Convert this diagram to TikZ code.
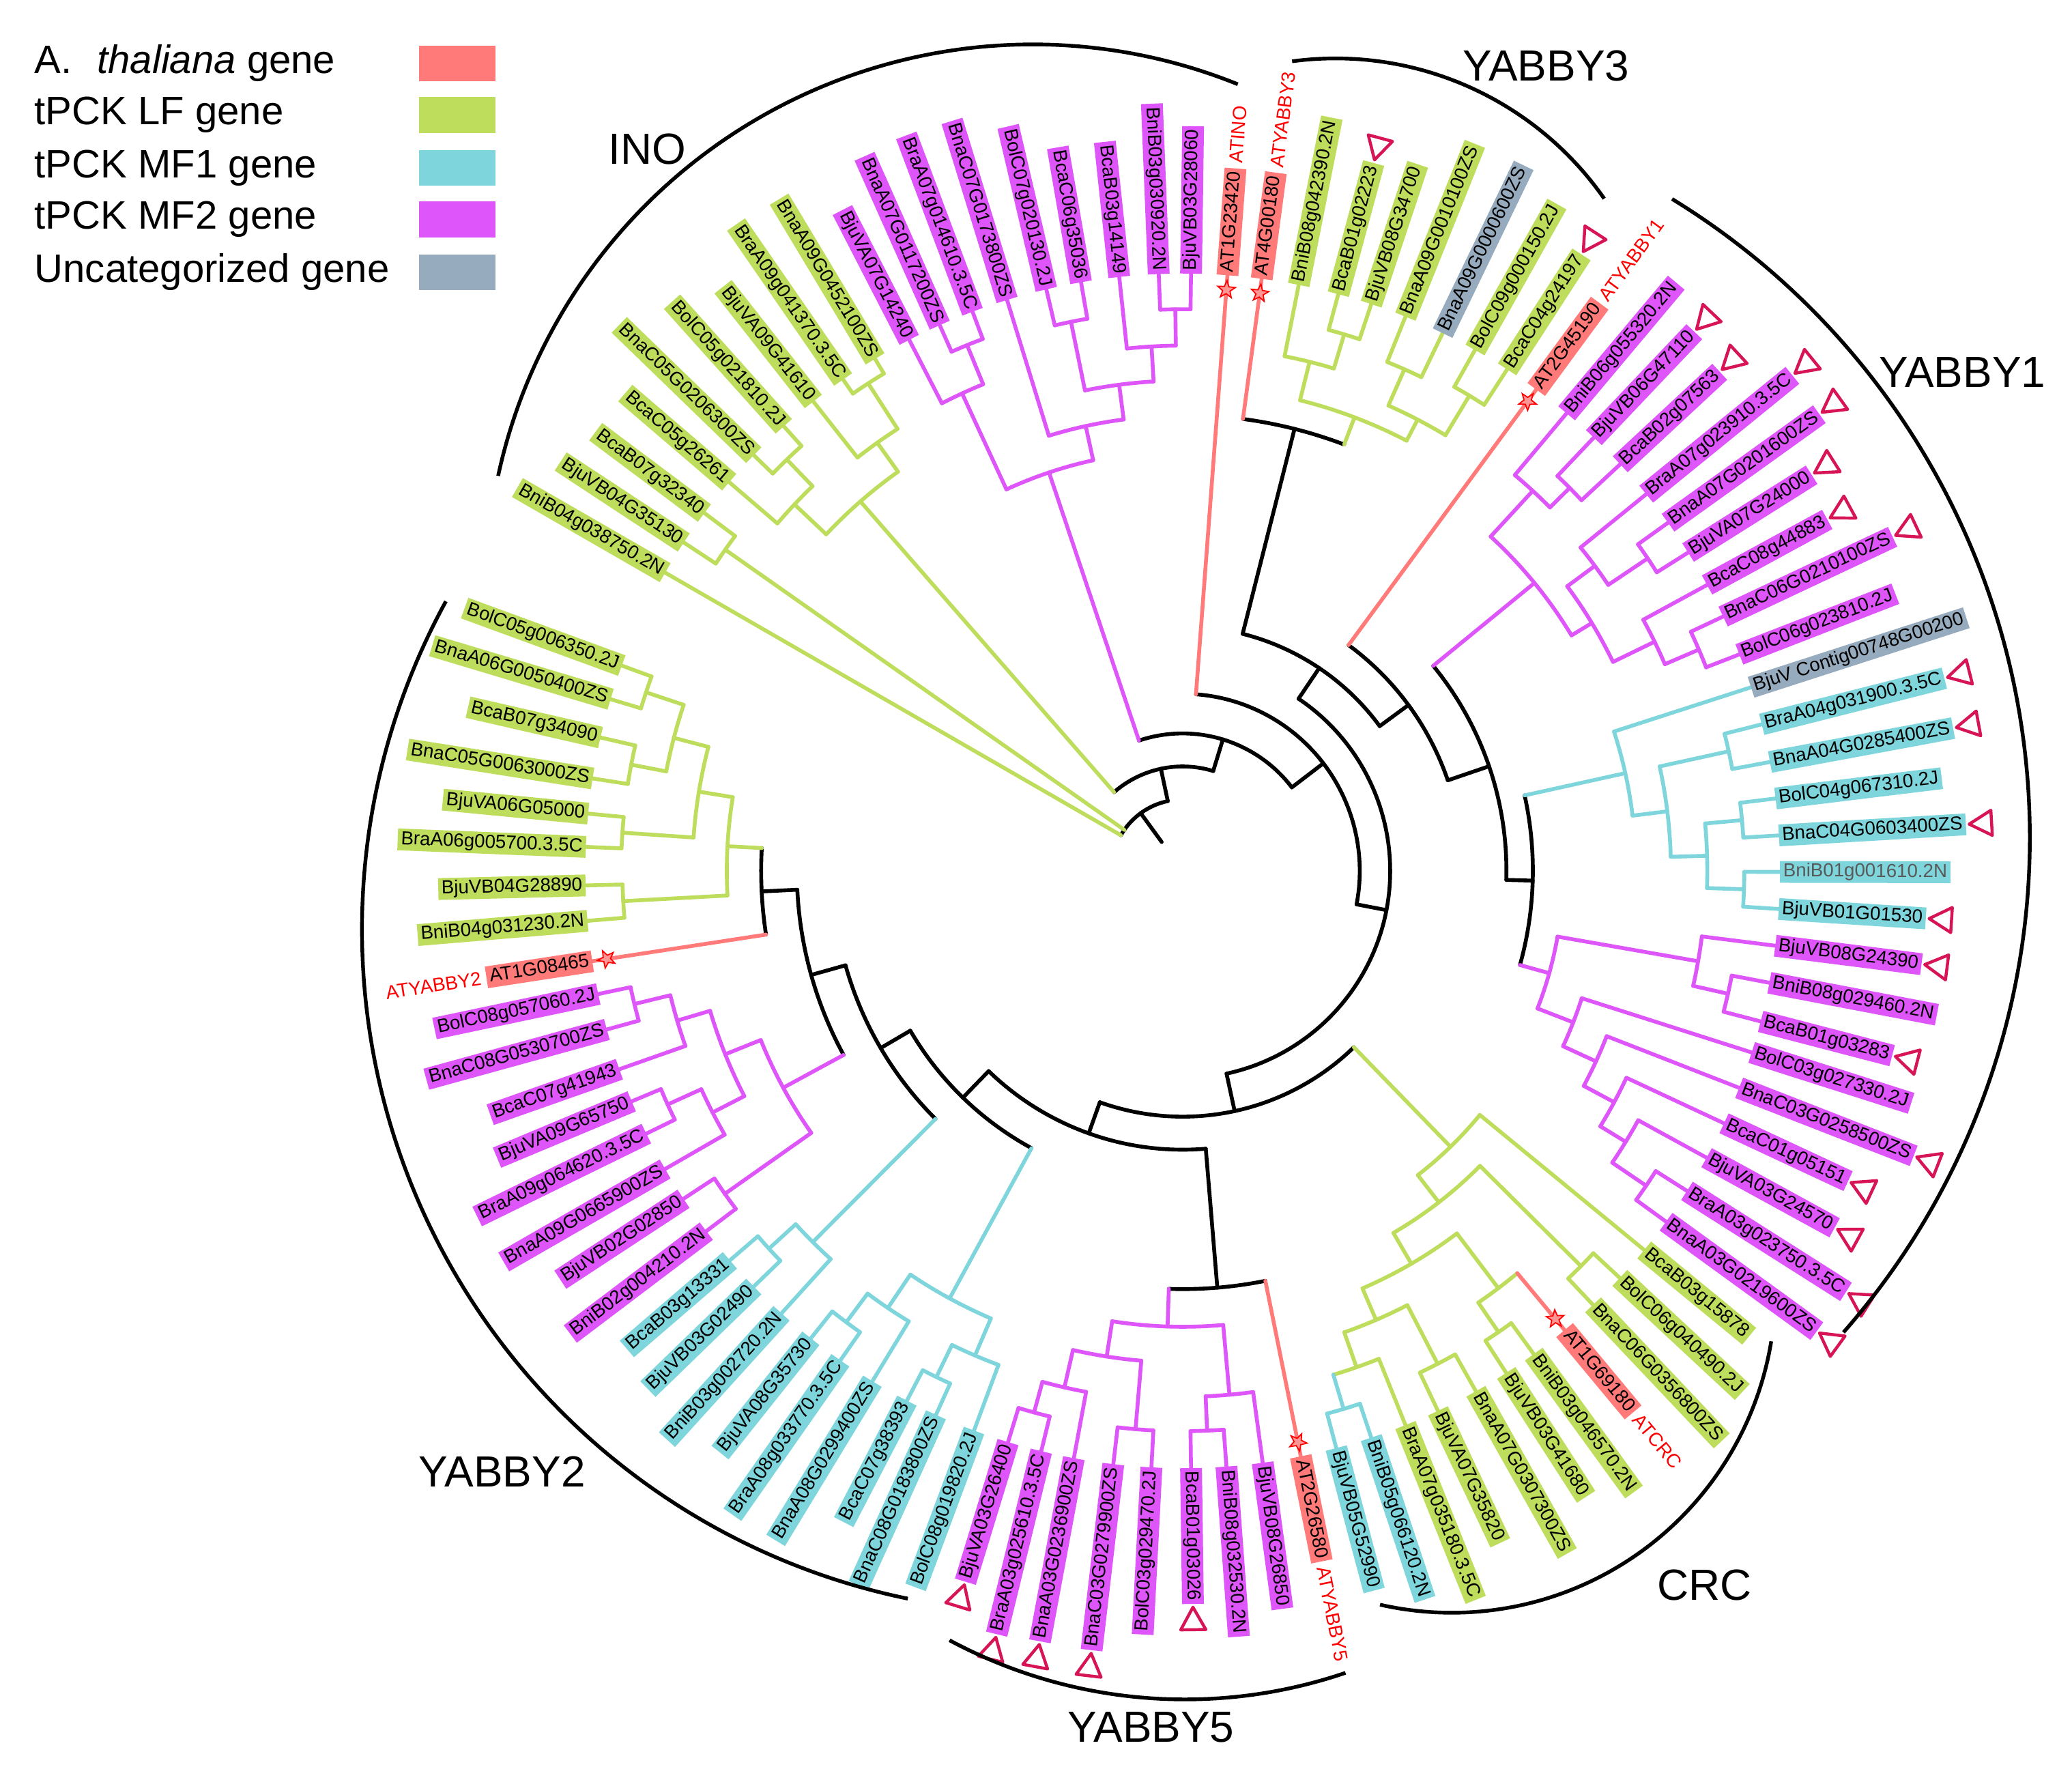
\documentclass[tikz,border=0pt]{standalone}
\usepackage{fontspec}
\usetikzlibrary{calc,shapes.geometric}
\newfontfamily\lf{Liberation Sans}
\definecolor{cAT}{RGB}{255,122,120}
\definecolor{cLF}{RGB}{190,221,92}
\definecolor{cMFa}{RGB}{126,214,220}
\definecolor{cMFb}{RGB}{222,86,250}
\definecolor{cUN}{RGB}{150,172,190}
\definecolor{cTri}{RGB}{215,20,85}
\definecolor{cStar}{RGB}{255,150,150}
\tikzset{
 br/.style={line width=2.9pt,line cap=round,line join=round},
 bk/.style={br,draw=black},
 gr/.style={br,draw=cLF},
 cy/.style={br,draw=cMFa},
 mg/.style={br,draw=cMFb},
 sa/.style={br,draw=cAT},
 lbl/.style={font=\lf\fontsize{14.3}{16}\selectfont,inner xsep=2.5pt,inner ysep=1.5pt,text height=10.5pt,text depth=3pt,outer sep=0pt},
 atl/.style={font=\lf\fontsize{14.5}{16}\selectfont,text=red,inner sep=0pt},
 tri/.style={draw=cTri,line width=2.3pt,fill=white,line join=round},
 astar/.style={star,star points=5,star point ratio=2.4,minimum size=14pt,inner sep=0pt,draw=red,fill=cStar,line width=0.9pt},
 clade/.style={line width=2.8pt,draw=black},
 cl/.style={font=\lf\fontsize{33}{36}\selectfont,inner sep=0pt},
 leg/.style={font=\lf\fontsize{30}{34}\selectfont,anchor=west,inner sep=0pt}
}
\newcommand\TBarc[4]{\draw[#1] (#2:#4pt) arc[start angle=#2,end angle=#3,radius=#4pt];}
\newcommand\TStem[4]{\draw[#1] (#2:#3pt) -- (#2:#4pt);}
\newcommand\Nd[8]{\TBarc{#1}{#3}{#6}{#2}\TStem{#4}{#3}{#2}{#5}\TStem{#7}{#6}{#2}{#8}}
\newcommand\LabR[5][]{\node[lbl,fill=#4,anchor=west,rotate=#3,#1] (#2) at (#3:452pt) {#5};}
\newcommand\LabL[5][]{\node[lbl,fill=#4,anchor=east,rotate={#3+180},#1] (#2) at (#3:452pt) {#5};}
\newcommand\TriR[2]{\begin{scope}[shift={($(#1.east)!-2.5pt!(#1.west)$)},rotate=#2]\draw[tri] (0pt,0pt)--(17pt,9.5pt)--(17pt,-9.5pt)--cycle;\end{scope}}
\newcommand\TriL[2]{\begin{scope}[shift={($(#1.west)!-2.5pt!(#1.east)$)},rotate=#2]\draw[tri] (0pt,0pt)--(17pt,9.5pt)--(17pt,-9.5pt)--cycle;\end{scope}}
\begin{document}
\begin{tikzpicture}[x=1pt,y=1pt]
\fill[white] (0,-1337) rectangle (1568,0);
\useasboundingbox (0,-1337) rectangle (1568,0);

\begin{scope}[shift={(895,-659)}]
% ---------- branches ----------
\TStem{bk}{126.05}{27}{54}
\Nd{bk}{54}{150.05}{gr}{452}{102.05}{bk}{79}
\TStem{gr}{144.93}{54}{423}
\Nd{gr}{423}{146.65}{gr}{452}{143.2}{gr}{452}
\Nd{bk}{79}{131.1}{gr}{371}{73.0}{bk}{104}
\Nd{gr}{371}{136.65}{gr}{404}{125.5}{gr}{398}
\Nd{gr}{404}{139.4}{gr}{452}{133.9}{gr}{432}
\Nd{gr}{432}{135.9}{gr}{452}{131.9}{gr}{452}
\Nd{gr}{398}{128.2}{gr}{452}{122.83}{gr}{439}
\Nd{gr}{439}{124.65}{gr}{452}{121.0}{gr}{452}
\Nd{bk}{104}{108.55}{mg}{318}{37.4}{bk}{134}
\Nd{mg}{318}{114.8}{mg}{398}{102.3}{mg}{344.5}
\Nd{mg}{398}{117.25}{mg}{452}{112.3}{mg}{430}
\Nd{mg}{430}{114.0}{mg}{452}{110.6}{mg}{452}
\Nd{mg}{344.5}{107.1}{mg}{452}{97.45}{mg}{371}
\Nd{mg}{371}{101.5}{mg}{424}{93.4}{mg}{397.5}
\Nd{mg}{424}{103.2}{mg}{452}{99.8}{mg}{452}
\Nd{mg}{397.5}{96.1}{mg}{452}{90.75}{mg}{425}
\Nd{mg}{425}{92.3}{mg}{452}{89.2}{mg}{452}
\Nd{bk}{134}{85.7}{sa}{452}{-10.9}{bk}{157}
\Nd{bk}{157}{56.05}{bk}{185}{-77.8}{bk}{186}
\Nd{bk}{185}{75.8}{bk}{345}{36.3}{bk}{212}
\Nd{bk}{345}{82.4}{sa}{452}{69.25}{gr}{367}
\Nd{gr}{367}{76.0}{gr}{397}{62.5}{gr}{385}
\Nd{gr}{397}{78.8}{gr}{452}{73.25}{gr}{424}
\Nd{gr}{424}{74.9}{gr}{452}{71.6}{gr}{452}
\Nd{gr}{385}{66.15}{gr}{415}{58.9}{gr}{420}
\Nd{gr}{415}{68.1}{gr}{452}{64.2}{gr}{452}
\Nd{gr}{420}{60.7}{gr}{452}{57.1}{gr}{452}
\Nd{bk}{212}{53.7}{sa}{452}{18.85}{bk}{245}
\Nd{bk}{245}{39.3}{mg}{344}{-1.6}{bk}{265}
\Nd{mg}{344}{47.35}{mg}{391}{31.2}{mg}{362}
\Nd{mg}{391}{50.0}{mg}{452}{44.7}{mg}{412}
\Nd{mg}{412}{46.5}{mg}{452}{42.9}{mg}{452}
\Nd{mg}{362}{36.5}{mg}{388}{25.9}{mg}{397}
\Nd{mg}{388}{39.1}{mg}{452}{33.9}{mg}{424}
\Nd{mg}{424}{35.65}{mg}{452}{32.2}{mg}{452}
\Nd{mg}{397}{28.6}{mg}{452}{23.2}{mg}{425}
\Nd{mg}{425}{25.2}{mg}{452}{21.25}{mg}{452}
\Nd{bk}{265}{12.45}{cy}{343}{-15.6}{mg}{288}
\Nd{cy}{343}{17.9}{cy}{452}{7.0}{cy}{369.5}
\Nd{cy}{369.5}{12.35}{cy}{423}{1.65}{cy}{397}
\Nd{cy}{423}{14.2}{cy}{452}{10.5}{cy}{452}
\Nd{cy}{397}{5.18}{cy}{425}{-1.88}{cy}{425}
\Nd{cy}{425}{6.96}{cy}{452}{3.4}{cy}{452}
\Nd{cy}{425}{-0.1}{cy}{452}{-3.66}{cy}{452}
\Nd{mg}{288}{-9.95}{mg}{396}{-21.2}{mg}{317}
\Nd{mg}{396}{-7.2}{mg}{452}{-12.7}{mg}{423}
\Nd{mg}{423}{-10.8}{mg}{452}{-14.6}{mg}{452}
\Nd{mg}{317}{-17.7}{mg}{452}{-24.75}{mg}{344.4}
\Nd{mg}{344.4}{-21.3}{mg}{452}{-28.2}{mg}{370.5}
\Nd{mg}{370.5}{-25.0}{mg}{452}{-31.45}{mg}{393}
\Nd{mg}{393}{-28.7}{mg}{452}{-34.19}{mg}{424}
\Nd{mg}{424}{-32.4}{mg}{452}{-35.97}{mg}{452}
\Nd{bk}{186}{-45.85}{gr}{291}{-109.7}{bk}{211}
\Nd{gr}{291}{-39.4}{gr}{452}{-52.3}{gr}{317}
\Nd{gr}{317}{-44.78}{gr}{424.6}{-59.8}{gr}{344}
\Nd{gr}{424.6}{-42.96}{gr}{452}{-46.6}{gr}{452}
\Nd{gr}{344}{-52.9}{gr}{396}{-66.7}{gr}{370}
\Nd{gr}{396}{-50.25}{sa}{452}{-55.6}{gr}{423}
\Nd{gr}{423}{-54.0}{gr}{452}{-57.2}{gr}{452}
\Nd{gr}{370}{-62.65}{gr}{420}{-70.7}{gr}{398}
\Nd{gr}{420}{-60.6}{gr}{452}{-64.7}{gr}{452}
\Nd{gr}{398}{-68.1}{gr}{452}{-73.35}{cy}{425}
\Nd{cy}{425}{-71.6}{cy}{452}{-75.1}{cy}{452}
\Nd{bk}{211}{-85.25}{bk}{316.5}{-134.1}{bk}{239}
\Nd{bk}{316.5}{-78.6}{sa}{452}{-91.9}{mg}{345}
\Nd{mg}{345}{-84.9}{mg}{398}{-98.9}{mg}{372}
\Nd{mg}{398}{-82.3}{mg}{452}{-87.5}{mg}{424}
\Nd{mg}{424}{-85.8}{mg}{452}{-89.2}{mg}{452}
\Nd{mg}{372}{-94.83}{mg}{424}{-102.9}{mg}{401}
\Nd{mg}{424}{-93.0}{mg}{452}{-96.67}{mg}{452}
\Nd{mg}{401}{-100.5}{mg}{452}{-105.35}{mg}{425}
\Nd{mg}{425}{-103.7}{mg}{452}{-107.0}{mg}{452}
\Nd{bk}{239}{-118.6}{cy}{368.5}{-149.6}{bk}{265}
\Nd{cy}{368.5}{-113.2}{cy}{399}{-124.0}{cy}{399}
\Nd{cy}{399}{-110.45}{cy}{452}{-115.95}{cy}{426}
\Nd{cy}{426}{-114.4}{cy}{452}{-117.5}{cy}{452}
\Nd{cy}{399}{-121.3}{cy}{452}{-126.7}{cy}{426}
\Nd{cy}{426}{-124.97}{cy}{452}{-128.5}{cy}{452}
\Nd{bk}{265}{-134.9}{cy}{396.6}{-164.35}{bk}{292}
\Nd{cy}{396.6}{-132.2}{cy}{452}{-137.6}{cy}{424}
\Nd{cy}{424}{-135.9}{cy}{452}{-139.3}{cy}{452}
\Nd{bk}{292}{-151.5}{mg}{344}{-177.2}{bk}{319}
\Nd{mg}{344}{-144.8}{mg}{424}{-158.15}{mg}{373}
\Nd{mg}{424}{-142.9}{mg}{452}{-146.7}{mg}{452}
\Nd{mg}{373}{-152.8}{mg}{400}{-163.5}{mg}{399}
\Nd{mg}{400}{-150.06}{mg}{452}{-155.6}{mg}{428}
\Nd{mg}{428}{-153.9}{mg}{452}{-157.3}{mg}{452}
\Nd{mg}{399}{-160.6}{mg}{452}{-166.35}{mg}{427}
\Nd{mg}{427}{-164.6}{mg}{452}{-168.1}{mg}{452}
\Nd{bk}{319}{-171.3}{sa}{452}{-183.1}{gr}{345}
\Nd{gr}{345}{-176.9}{gr}{424}{-189.3}{gr}{371}
\Nd{gr}{424}{-175.2}{gr}{452}{-178.6}{gr}{452}
\Nd{gr}{371}{-183.9}{gr}{425}{-194.65}{gr}{398}
\Nd{gr}{425}{-182.3}{gr}{452}{-185.5}{gr}{452}
\Nd{gr}{398}{-190.9}{gr}{425}{-198.4}{gr}{428}
\Nd{gr}{425}{-188.9}{gr}{452}{-192.9}{gr}{452}
\Nd{gr}{428}{-196.7}{gr}{452}{-200.1}{gr}{452}

% ---------- leaf labels ----------
\LabL{L1}{150.05}{cLF}{BniB04g038750.2N}
\LabL{L2}{146.65}{cLF}{BjuVB04G35130}
\LabL{L3}{143.2}{cLF}{BcaB07g32340}
\LabL{L4}{139.4}{cLF}{BcaC05g26261}
\LabL{L5}{135.9}{cLF}{BnaC05G0206300ZS}
\LabL{L6}{131.9}{cLF}{BolC05g021810.2J}
\LabL{L7}{128.2}{cLF}{BjuVA09G41610}
\LabL{L8}{124.65}{cLF}{BraA09g041370.3.5C}
\LabL{L9}{121.0}{cLF}{BnaA09G0452100ZS}
\LabL{L10}{117.25}{cMFb}{BjuVA07G14240}
\LabL{L11}{114.0}{cMFb}{BnaA07G0117200ZS}
\LabL{L12}{110.6}{cMFb}{BraA07g014610.3.5C}
\LabL{L13}{107.1}{cMFb}{BnaC07G0173800ZS}
\LabL{L14}{103.2}{cMFb}{BolC07g020130.2J}
\LabL{L15}{99.8}{cMFb}{BcaC06g35036}
\LabL{L16}{96.1}{cMFb}{BcaB03g14149}
\LabL{L17}{92.3}{cMFb}{BniB03g030920.2N}
\LabR{L18}{89.2}{cMFb}{BjuVB03G28060}
\LabR{L19}{85.7}{cAT}{AT1G23420}
\LabR{L20}{82.4}{cAT}{AT4G00180}
\LabR{L21}{78.8}{cLF}{BniB08g042390.2N}
\LabR{L22}{74.9}{cLF}{BcaB01g02223}
\LabR{L23}{71.6}{cLF}{BjuVB08G34700}
\LabR{L24}{68.1}{cLF}{BnaA09G0010100ZS}
\LabR{L25}{64.2}{cUN}{BnaA09G0000600ZS}
\LabR{L26}{60.7}{cLF}{BolC09g000150.2J}
\LabR{L27}{57.1}{cLF}{BcaC04g24197}
\LabR{L28}{53.7}{cAT}{AT2G45190}
\LabR{L29}{50.0}{cMFb}{BniB06g055320.2N}
\LabR{L30}{46.5}{cMFb}{BjuVB06G47110}
\LabR{L31}{42.9}{cMFb}{BcaB02g07563}
\LabR{L32}{39.1}{cMFb}{BraA07g023910.3.5C}
\LabR{L33}{35.65}{cMFb}{BnaA07G0201600ZS}
\LabR{L34}{32.2}{cMFb}{BjuVA07G24000}
\LabR{L35}{28.6}{cMFb}{BcaC08g44883}
\LabR{L36}{25.2}{cMFb}{BnaC06G0210100ZS}
\LabR{L37}{21.25}{cMFb}{BolC06g023810.2J}
\LabR{L38}{17.9}{cUN}{BjuV Contig00748G00200}
\LabR{L39}{14.2}{cMFa}{BraA04g031900.3.5C}
\LabR{L40}{10.5}{cMFa}{BnaA04G0285400ZS}
\LabR{L41}{6.96}{cMFa}{BolC04g067310.2J}
\LabR{L42}{3.4}{cMFa}{BnaC04G0603400ZS}
\LabR[text=black!65]{L43}{-0.1}{cMFa}{BniB01g001610.2N}
\LabR{L44}{-3.66}{cMFa}{BjuVB01G01530}
\LabR{L45}{-7.2}{cMFb}{BjuVB08G24390}
\LabR{L46}{-10.8}{cMFb}{BniB08g029460.2N}
\LabR{L47}{-14.6}{cMFb}{BcaB01g03283}
\LabR{L48}{-17.7}{cMFb}{BolC03g027330.2J}
\LabR{L49}{-21.3}{cMFb}{BnaC03G0258500ZS}
\LabR{L50}{-25.0}{cMFb}{BcaC01g05151}
\LabR{L51}{-28.7}{cMFb}{BjuVA03G24570}
\LabR{L52}{-32.4}{cMFb}{BraA03g023750.3.5C}
\LabR{L53}{-35.97}{cMFb}{BnaA03G0219600ZS}
\LabR{L54}{-39.4}{cLF}{BcaB03g15878}
\LabR{L55}{-42.96}{cLF}{BolC06g040490.2J}
\LabR{L56}{-46.6}{cLF}{BnaC06G0356800ZS}
\LabR{L57}{-50.25}{cAT}{AT1G69180}
\LabR{L58}{-54.0}{cLF}{BniB03g046570.2N}
\LabR{L59}{-57.2}{cLF}{BjuVB03G41680}
\LabR{L60}{-60.6}{cLF}{BnaA07G0307300ZS}
\LabR{L61}{-64.7}{cLF}{BjuVA07G35820}
\LabR{L62}{-68.1}{cLF}{BraA07g035180.3.5C}
\LabR{L63}{-71.6}{cMFa}{BniB05g066120.2N}
\LabR{L64}{-75.1}{cMFa}{BjuVB05G52990}
\LabR{L65}{-78.6}{cAT}{AT2G26580}
\LabR{L66}{-82.3}{cMFb}{BjuVB08G26850}
\LabR{L67}{-85.8}{cMFb}{BniB08g032530.2N}
\LabR{L68}{-89.2}{cMFb}{BcaB01g03026}
\LabL{L69}{-93.0}{cMFb}{BolC03g029470.2J}
\LabL{L70}{-96.67}{cMFb}{BnaC03G0279900ZS}
\LabL{L71}{-100.5}{cMFb}{BnaA03G0236900ZS}
\LabL{L72}{-103.7}{cMFb}{BraA03g025610.3.5C}
\LabL{L73}{-107.0}{cMFb}{BjuVA03G26400}
\LabL{L74}{-110.45}{cMFa}{BolC08g019820.2J}
\LabL{L75}{-114.4}{cMFa}{BnaC08G0183800ZS}
\LabL{L76}{-117.5}{cMFa}{BcaC07g38393}
\LabL{L77}{-121.3}{cMFa}{BnaA08G0299400ZS}
\LabL{L78}{-124.97}{cMFa}{BraA08g033770.3.5C}
\LabL{L79}{-128.5}{cMFa}{BjuVA08G35730}
\LabL{L80}{-132.2}{cMFa}{BniB03g002720.2N}
\LabL{L81}{-135.9}{cMFa}{BjuVB03G02490}
\LabL{L82}{-139.3}{cMFa}{BcaB03g13331}
\LabL{L83}{-142.9}{cMFb}{BniB02g004210.2N}
\LabL{L84}{-146.7}{cMFb}{BjuVB02G02850}
\LabL{L85}{-150.06}{cMFb}{BnaA09G0665900ZS}
\LabL{L86}{-153.9}{cMFb}{BraA09g064620.3.5C}
\LabL{L87}{-157.3}{cMFb}{BjuVA09G65750}
\LabL{L88}{-160.6}{cMFb}{BcaC07g41943}
\LabL{L89}{-164.6}{cMFb}{BnaC08G0530700ZS}
\LabL{L90}{-168.1}{cMFb}{BolC08g057060.2J}
\LabL{L91}{-171.3}{cAT}{AT1G08465}
\LabL{L92}{-175.2}{cLF}{BniB04g031230.2N}
\LabL{L93}{-178.6}{cLF}{BjuVB04G28890}
\LabL{L94}{-182.3}{cLF}{BraA06g005700.3.5C}
\LabL{L95}{-185.5}{cLF}{BjuVA06G05000}
\LabL{L96}{-188.9}{cLF}{BnaC05G0063000ZS}
\LabL{L97}{-192.9}{cLF}{BcaB07g34090}
\LabL{L98}{-196.7}{cLF}{BnaA06G0050400ZS}
\LabL{L99}{-200.1}{cLF}{BolC05g006350.2J}

% ---------- stars ----------
\node[astar,rotate=-4.3] (s19) at (85.7:441pt) {};
\node[astar,rotate=-7.6] (s20) at (82.4:441pt) {};
\node[astar,rotate=-36.3] (s28) at (53.7:441pt) {};
\node[astar,rotate=-140.25] (s57) at (-50.25:441pt) {};
\node[astar,rotate=-168.6] (s65) at (-78.6:441pt) {};
\node[astar,rotate=98.7] (s91) at (-171.3:441pt) {};

% ---------- red AT names ----------
\node[atl,anchor=west,rotate=85.7] (tINO) at (85.7:537pt) {ATINO};
\node[atl,anchor=west,rotate=82.4] (tY3) at (82.4:537pt) {ATYABBY3};
\node[atl,anchor=west,rotate=53.7] (tY1) at (53.7:537pt) {ATYABBY1};
\node[atl,anchor=west,rotate=-50.25] (tCRC) at (-50.25:537pt) {ATCRC};
\node[atl,anchor=west,rotate=-78.6] (tY5) at (-78.6:537pt) {ATYABBY5};
\node[atl,anchor=east,rotate=8.7] (tY2) at (-171.3:537pt) {ATYABBY2};
\end{scope}

% ---------- triangles ----------
\TriR{L22}{74.9}\TriR{L27}{57.1}
\TriR{L30}{46.5}\TriR{L31}{42.9}\TriR{L32}{39.1}\TriR{L33}{35.65}
\TriR{L34}{32.2}\TriR{L35}{28.6}\TriR{L36}{25.2}
\TriR{L39}{14.2}\TriR{L40}{10.5}\TriR{L42}{3.4}\TriR{L44}{-3.66}
\TriR{L45}{-7.2}\TriR{L47}{-14.6}\TriR{L49}{-21.3}
\TriR{L50}{-25.0}\TriR{L51}{-28.7}\TriR{L52}{-32.4}\TriR{L53}{-35.97}
\TriR{L68}{-89.2}
\TriL{L70}{-96.67}\TriL{L71}{-100.5}\TriL{L72}{-103.7}\TriL{L73}{-107.0}

% ---------- clade arcs ----------
\draw[clade,shift={(781.6,-447.6)}] (167.8:414pt) arc[start angle=167.8,end angle=68,radius=414pt];
\draw[clade,shift={(1010.6,-292.2)}] (97.6:248pt) arc[start angle=97.6,end angle=34.9,radius=248pt];
\draw[clade,shift={(969.1,-634)}] (58.5:567pt) arc[start angle=58.5,end angle=-41.3,radius=567pt];
\draw[clade,shift={(1098.6,-975.4)}] (-9.3:245pt) arc[start angle=-9.3,end angle=-102.8,radius=245pt];
\draw[clade,shift={(896.7,-909)}] (-118.2:377pt) arc[start angle=-118.2,end angle=-71.2,radius=377pt];
\draw[clade,shift={(790.9,-703.3)}] (151.3:517pt) arc[start angle=151.3,end angle=258.4,radius=517pt];

% ---------- clade names ----------
\node[cl] (cINO) at (490,-112.6) {INO};
\node[cl] (cY3) at (1170,-50) {YABBY3};
\node[cl] (cY1) at (1485,-282) {YABBY1};
\node[cl] (cCRC) at (1290,-1199.5) {CRC};
\node[cl] (cY5) at (871,-1307) {YABBY5};
\node[cl] (cY2) at (380,-1113.5) {YABBY2};

% ---------- legend ----------
\node[leg] (g1) at (26,-48) {A.\hspace{19pt}{\itshape thaliana} gene};
\node[leg] (g2) at (26,-87) {tPCK LF gene};
\node[leg] (g3) at (26,-127) {tPCK MF1 gene};
\node[leg] (g4) at (26,-166) {tPCK MF2 gene};
\node[leg] (g5) at (26,-206) {Uncategorized gene};
\fill[cAT] (317,-34.5) rectangle (375,-61.5);
\fill[cLF] (317,-73.5) rectangle (375,-100.5);
\fill[cMFa] (317,-113.5) rectangle (375,-140.5);
\fill[cMFb] (317,-152.5) rectangle (375,-179.5);
\fill[cUN] (317,-192.5) rectangle (375,-219.5);
\end{tikzpicture}
\end{document}
